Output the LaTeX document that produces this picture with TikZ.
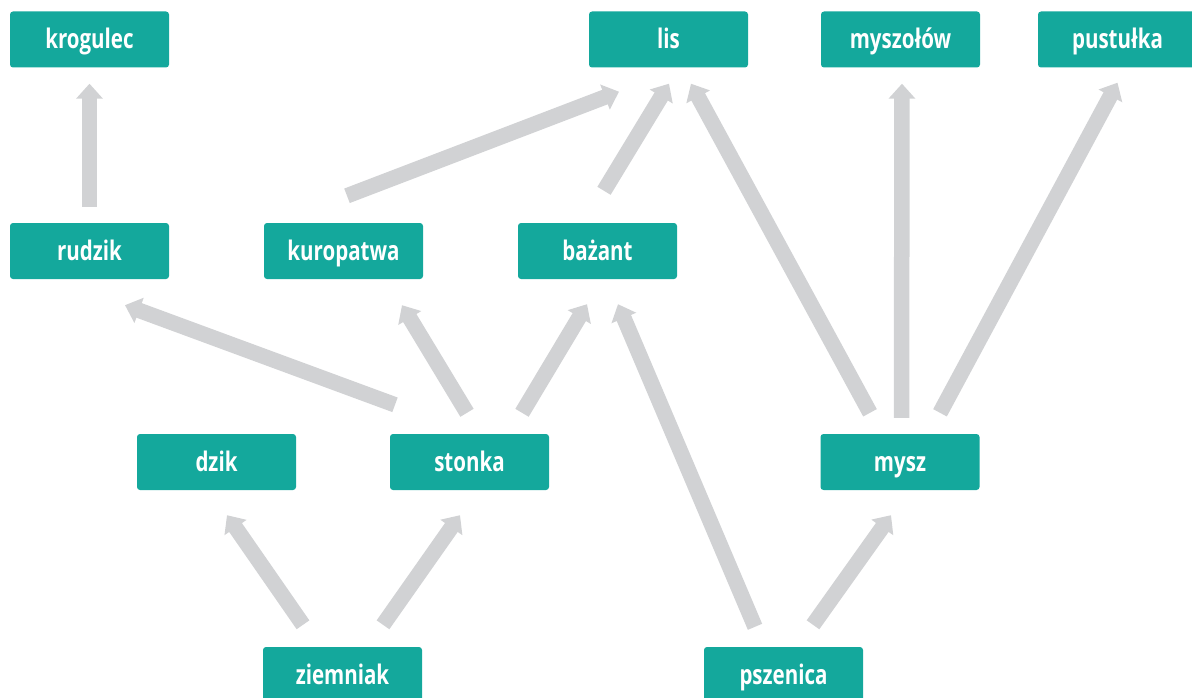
\documentclass[tikz,border=0pt]{standalone}
\usepackage{fontspec}
\setmainfont{Open Sans}[FakeStretch=0.76]
\usetikzlibrary{arrows.meta}
\definecolor{boxteal}{HTML}{14A89C}
\definecolor{arrgray}{HTML}{D1D2D4}
\begin{document}
\begin{tikzpicture}[x=1pt,y=-1pt,
  box/.style={fill=boxteal, rounded corners=3pt, minimum width=159pt, minimum height=56pt,
    inner sep=0pt, text=white, text height=19pt, text depth=1pt,
    font=\fontsize{27}{30}\selectfont\bfseries},
  arr/.style={draw=arrgray, line width=15.5pt, line cap=butt,
    -{Triangle[width=26pt,length=15pt]}}]
\useasboundingbox (0,0) rectangle (1192,698);
% top row
\node[box] (krogulec) at (89.5,39.5) {krogulec};
\node[box] (lis) at (668.5,39.5) {lis};
\node[box] (myszolow) at (900.5,39.5) {myszołów};
\node[box] (pustulka) at (1117.5,39.5) {pustułka};
% second row
\node[box] (rudzik) at (89.5,251) {rudzik};
\node[box] (kuropatwa) at (343.5,251) {kuropatwa};
\node[box] (bazant) at (597.5,251) {bażant};
% third row
\node[box] (dzik) at (216.5,462) {dzik};
\node[box] (stonka) at (469.5,462) {stonka};
\node[box] (mysz) at (900,462) {mysz};
% bottom row
\node[box] (ziemniak) at (342.5,675) {ziemniak};
\node[box] (pszenica) at (783.5,675) {pszenica};
% arrows
\draw[arr] ([shift={(0,-16)}]rudzik.north) -- ([shift={(0,16)}]krogulec.south);
\draw[arr] ([shift={(3.5,-27)}]kuropatwa.north) -- ([shift={(-49.5,24)}]lis.south);
\draw[arr] ([shift={(6.5,-32)}]bazant.north) -- ([shift={(0.5,16)}]lis.south);
\draw[arr] ([shift={(-30,-21)}]mysz.north) -- ([shift={(22.5,16)}]lis.south);
\draw[arr] ([shift={(1.5,-16)}]mysz.north) -- ([shift={(1.5,16)}]myszolow.south);
\draw[arr] ([shift={(40,-21)}]mysz.north) -- ([shift={(0,15)}]pustulka.south);
\draw[arr] ([shift={(-74.5,-29)}]stonka.north) -- ([shift={(35.5,26)}]rudzik.south);
\draw[arr] ([shift={(-2.5,-21)}]stonka.north) -- ([shift={(58.5,26)}]kuropatwa.south);
\draw[arr] ([shift={(52.5,-21)}]stonka.north) -- ([shift={(-10.5,25)}]bazant.south);
\draw[arr] ([shift={(-28.5,-20)}]pszenica.north) -- ([shift={(20.5,25)}]bazant.south);
\draw[arr] ([shift={(29.5,-22)}]pszenica.north) -- ([shift={(-9,25)}]mysz.south);
\draw[arr] ([shift={(-39.5,-22)}]ziemniak.north) -- ([shift={(10.5,25)}]dzik.south);
\draw[arr] ([shift={(40.5,-22)}]ziemniak.north) -- ([shift={(-9.5,25)}]stonka.south);
\end{tikzpicture}
\end{document}
